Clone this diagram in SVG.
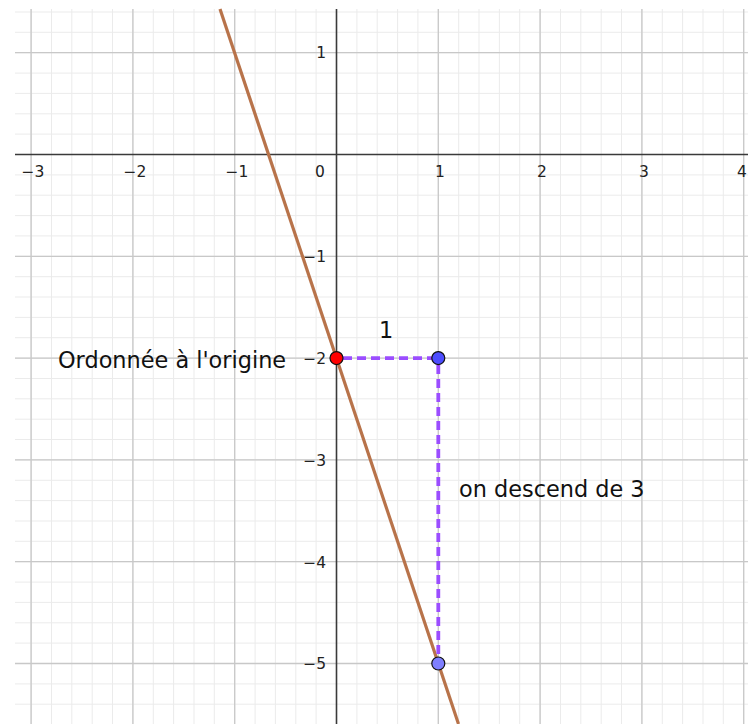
<svg xmlns="http://www.w3.org/2000/svg" width="748" height="724" viewBox="0 0 748 724">
<style>
.minor{stroke:#ebebeb;stroke-width:1;fill:none}
.major{stroke:#c8c8c8;stroke-width:1.3;fill:none}
.axis{stroke:#3a3a3a;stroke-width:1.6;fill:none}
.tick{font-family:"DejaVu Sans",sans-serif;font-size:15.5px;fill:#222}
.lbl{font-family:"DejaVu Sans",sans-serif;font-size:22.4px;fill:#111}
.dash{stroke:#9b4dff;stroke-width:3.8;stroke-dasharray:9 5;fill:none}
.pt{stroke:#111;stroke-width:1.2}
</style>
<rect width="748" height="724" fill="#fff"/>
<g id="grid">
<path class="minor" d="M31.1 9V724M51.5 9V724M71.8 9V724M92.2 9V724M112.5 9V724M132.9 9V724M153.3 9V724M173.6 9V724M194 9V724M214.3 9V724M234.7 9V724M255.1 9V724M275.4 9V724M295.8 9V724M316.1 9V724M356.9 9V724M377.2 9V724M397.6 9V724M417.9 9V724M438.3 9V724M458.7 9V724M479 9V724M499.4 9V724M519.7 9V724M540.1 9V724M560.5 9V724M580.8 9V724M601.2 9V724M621.5 9V724M641.9 9V724M662.3 9V724M682.6 9V724M703 9V724M723.3 9V724M743.7 9V724
M15 12H748M15 32.3H748M15 52.7H748M15 73.1H748M15 93.4H748M15 113.8H748M15 134.1H748M15 174.9H748M15 195.2H748M15 215.6H748M15 235.9H748M15 256.3H748M15 276.7H748M15 297H748M15 317.4H748M15 337.7H748M15 358.1H748M15 378.5H748M15 398.8H748M15 419.2H748M15 439.5H748M15 459.9H748M15 480.3H748M15 500.6H748M15 521H748M15 541.3H748M15 561.7H748M15 582.1H748M15 602.4H748M15 622.8H748M15 643.1H748M15 663.5H748M15 683.9H748M15 704.2H748"/>
<path class="major" d="M31.1 9V724M132.9 9V724M234.7 9V724M438.3 9V724M540.1 9V724M641.9 9V724M743.7 9V724M15 52.7H748M15 256.3H748M15 358.1H748M15 459.9H748M15 561.7H748M15 663.5H748"/>
<path class="axis" d="M15 154.5H748M336.5 9V724"/>
</g>
<g id="ticks" class="tick">
<text x="33" y="177" text-anchor="middle">−3</text>
<text x="135" y="177" text-anchor="middle">−2</text>
<text x="237" y="177" text-anchor="middle">−1</text>
<text x="320" y="177" text-anchor="middle">0</text>
<text x="440" y="177" text-anchor="middle">1</text>
<text x="542" y="177" text-anchor="middle">2</text>
<text x="644" y="177" text-anchor="middle">3</text>
<text x="737" y="177">4</text>
<text x="326" y="58" text-anchor="end">1</text>
<text x="326" y="262" text-anchor="end">−1</text>
<text x="326" y="364" text-anchor="end">−2</text>
<text x="326" y="466" text-anchor="end">−3</text>
<text x="326" y="568" text-anchor="end">−4</text>
<text x="326" y="669" text-anchor="end">−5</text>
</g>
<g id="line">
<line x1="220" y1="9" x2="458.5" y2="724" stroke="#b8734a" stroke-width="3.2"/>
</g>
<g id="connectors">
<path class="dash" d="M343 358.1H432"/>
<path class="dash" d="M438.3 365V657"/>
</g>
<g id="pointA"><circle class="pt" cx="336.5" cy="358.1" r="6.5" fill="#ff0000"/></g>
<g id="pointB"><circle class="pt" cx="438.3" cy="358.1" r="6.5" fill="#4d4dff"/></g>
<g id="pointC"><circle class="pt" cx="438.3" cy="663.5" r="6.5" fill="#7f7fff"/></g>
<g id="label-origine"><text class="lbl" x="58" y="368">Ordonnée à l'origine</text></g>
<g id="label-1"><text class="lbl" x="379" y="338">1</text></g>
<g id="label-descend"><text class="lbl" x="459" y="497">on descend de 3</text></g>
</svg>
